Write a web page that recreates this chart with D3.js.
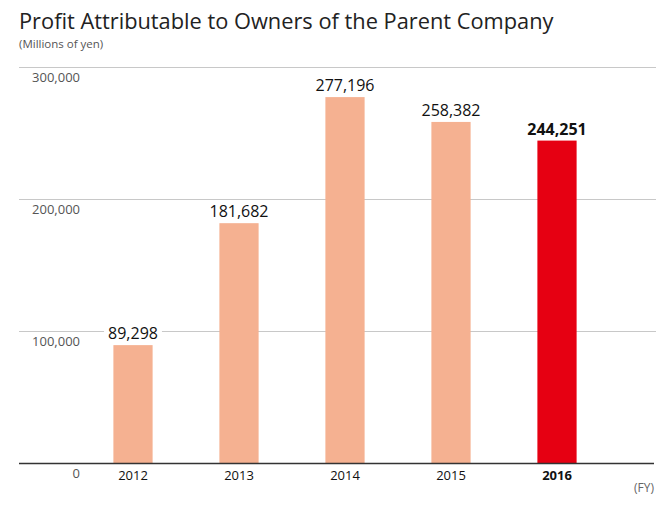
<!DOCTYPE html>
<html><head><meta charset="utf-8">
<script src="https://cdn.jsdelivr.net/npm/d3@7"></script>
<style>body{margin:0;background:#fff}svg{display:block}text{font-family:"Open Sans",sans-serif}</style>
</head><body><svg id="c" width="656" height="527"></svg>
<script>
const years = ["2012","2013","2014","2015","2016"];
const values = [89298, 181682, 277196, 258382, 244251];
const yTicks = [0, 100000, 200000, 300000];
const highlight = "2016";

const svg = d3.select("#c");
const x = d3.scaleBand().domain(years).range([80, 610]).paddingInner(0.63).paddingOuter(0.315);
const y = d3.scaleLinear().domain([0, 300000]).range([463, 67]);
const fmt = d3.format(",");

svg.append("text").attr("x", 19).attr("y", 28.5).attr("font-size", 21.8).attr("fill", "#222")
  .text("Profit Attributable to Owners of the Parent Company");
svg.append("text").attr("x", 19).attr("y", 48).attr("font-size", 11.5).attr("fill", "#555")
  .text("(Millions of yen)");

// grid
const g = svg.append("g");
g.selectAll("line.grid").data(yTicks.filter(d => d > 0)).join("line")
  .attr("x1", 19).attr("x2", 656).attr("y1", d => y(d) + 0.5).attr("y2", d => y(d) + 0.5)
  .attr("stroke", "#c8c8c8").attr("stroke-width", 1);
g.selectAll("text.yl").data(yTicks).join("text")
  .attr("x", 80).attr("y", d => y(d) + 15).attr("text-anchor", "end")
  .attr("font-size", 13).attr("fill", "#555").text(d => fmt(d));

// bars
svg.selectAll("rect.bar").data(years).join("rect")
  .attr("x", d => x(d)).attr("width", x.bandwidth())
  .attr("y", (d, i) => y(values[i])).attr("height", (d, i) => y(0) - y(values[i]))
  .attr("fill", d => d === highlight ? "#e60012" : "#f5b191");

// value labels with white backing
const lab = svg.selectAll("g.lab").data(years).join("g");
lab.each(function(d, i) {
  const gg = d3.select(this);
  const t = gg.append("text").attr("x", x(d) + x.bandwidth() / 2).attr("y", y(values[i]) - 6)
    .attr("text-anchor", "middle").attr("font-size", 16).attr("fill", "#111")
    .attr("font-weight", d === highlight ? "bold" : "normal").text(fmt(values[i]));
  const bb = t.node().getBBox();
  gg.insert("rect", "text").attr("x", bb.x - 4).attr("y", bb.y).attr("width", bb.width + 8).attr("height", bb.height).attr("fill", "#fff");
});

// baseline
svg.append("line").attr("x1", 19).attr("x2", 654).attr("y1", y(0) + 0.5).attr("y2", y(0) + 0.5)
  .attr("stroke", "#333").attr("stroke-width", 1.5);

// x labels
svg.selectAll("text.xl").data(years).join("text")
  .attr("x", d => x(d) + x.bandwidth() / 2).attr("y", 480).attr("text-anchor", "middle")
  .attr("font-size", 13).attr("fill", "#111").attr("font-weight", d => d === highlight ? "bold" : "normal")
  .text(d => d);
svg.append("text").attr("x", 654).attr("y", 492).attr("text-anchor", "end")
  .attr("font-size", 12).attr("fill", "#666").text("(FY)");
</script></body></html>
